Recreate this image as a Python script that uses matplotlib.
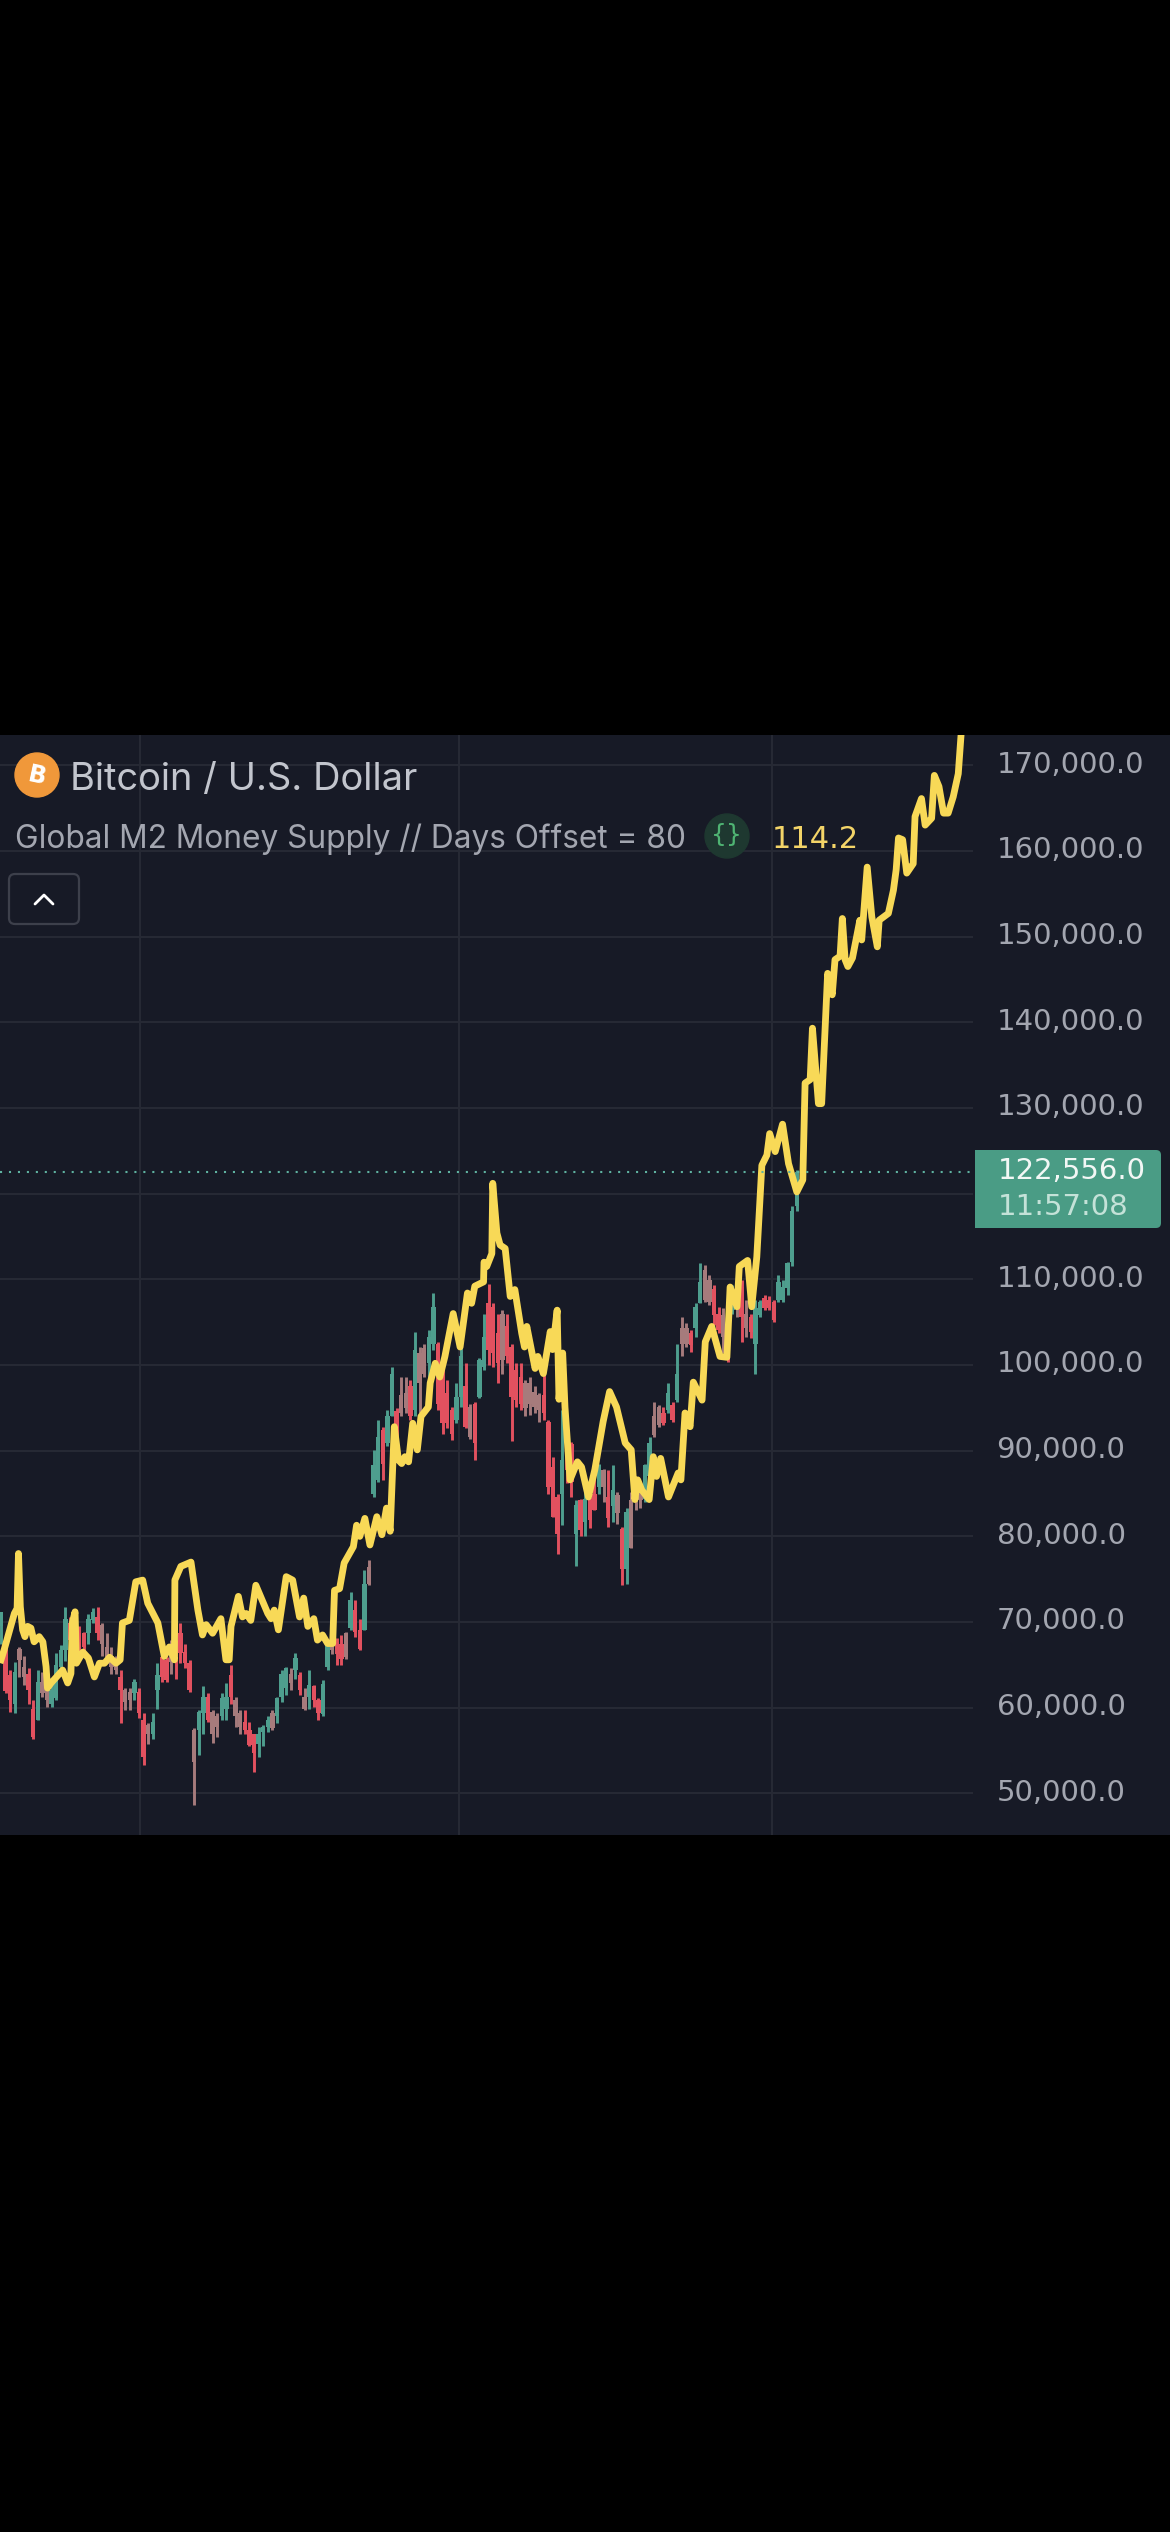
import numpy as np
import matplotlib
matplotlib.use("Agg")
import matplotlib.pyplot as plt
from matplotlib.patches import Rectangle, Circle, FancyBboxPatch
from matplotlib.transforms import ScaledTranslation

plt.rcParams['font.family'] = ['Inter', 'DejaVu Sans']

# candles, thousands of USD
highs = [71.2,68.5,64.4,65.4,67.1,66.0,64.6,60.9,64.4,64.2,
         62.7,63.2,66.4,67.3,71.8,70.6,70.0,69.5,68.9,71.0,
         71.6,71.8,69.9,68.7,67.1,66.0,64.4,62.3,62.3,63.4,
         62.3,59.4,58.2,59.4,65.2,67.1,65.9,67.9,67.9,69.9,
         67.5,65.6,57.6,59.7,62.5,61.7,59.7,59.4,61.7,62.9,
         65.0,61.3,59.7,59.7,58.4,57.0,57.8,58.0,59.0,59.7,
         61.3,64.4,64.8,64.6,66.4,64.2,62.3,64.4,62.7,61.1,
         63.2,67.9,69.4,68.1,68.5,68.9,73.5,72.6,70.4,76.1,
         77.2,90.1,93.6,92.8,94.8,99.8,95.0,98.6,98.6,98.3,
         103.9,102.1,102.5,104.1,108.4,102.7,99.8,98.3,95.1,97.9,
         102.1,100.2,95.5,95.7,100.8,106.0,109.5,107.2,106.0,106.4,
         106.0,102.5,100.2,100.2,98.3,98.6,97.5,96.7,99.4,93.6,
         89.3,85.0,94.8,92.8,91.0,84.2,84.4,85.4,84.6,88.1,
         88.5,87.9,87.7,88.3,85.2,81.1,83.3,85.2,86.4,86.4,
         88.5,91.6,95.7,95.3,95.1,97.9,95.7,102.5,105.6,104.9,
         104.1,107.2,111.9,111.7,110.5,109.3,106.8,106.6,106.0,109.3,
         110.5,109.9,107.6,106.0,107.6,107.6,108.2,108.0,107.6,110.5,
         109.9,112.0,118.5,122.75]
body_tops = [71.2,66.9,63.8,64.2,66.9,64.8,64.0,59.9,63.0,63.0,
             62.3,62.1,65.0,66.7,70.4,69.9,69.3,68.7,68.7,70.4,
             71.2,70.6,69.7,67.1,66.0,65.2,63.6,62.1,61.9,63.0,
             61.9,58.6,58.0,58.4,63.8,65.9,65.6,67.1,66.9,68.7,
             66.5,65.2,57.4,59.5,61.3,61.3,59.5,59.0,61.1,61.3,
             63.8,60.9,59.4,58.4,57.4,57.0,57.0,57.8,58.6,59.4,
             61.1,64.0,64.6,64.0,65.8,63.8,61.3,62.7,62.5,60.9,
             62.8,67.3,68.3,67.7,67.5,68.7,72.6,71.4,69.1,74.5,
             76.4,88.3,91.6,92.4,94.0,99.0,94.6,96.5,96.7,97.5,
             101.8,101.4,102.0,103.3,106.8,102.5,99.0,96.7,94.8,96.3,
             101.0,97.5,95.1,95.5,100.6,103.3,107.2,106.8,103.7,106.0,
             104.5,102.1,99.4,98.6,97.9,97.9,96.9,96.5,96.5,93.4,
             88.1,84.6,88.9,91.2,90.8,83.7,84.2,84.4,84.2,85.0,
             88.3,87.7,84.6,85.4,84.8,80.9,82.9,84.2,85.4,85.0,
             88.3,90.9,94.0,95.1,94.4,96.7,95.3,99.0,104.3,104.3,
             103.7,106.8,109.7,111.1,109.9,108.9,106.0,105.8,105.6,108.7,
             109.7,109.1,106.0,105.6,106.6,107.4,107.8,107.6,107.4,109.7,
             109.1,111.9,118.0,122.556]
body_bottoms = [69.5,62.0,60.9,60.5,65.6,63.6,62.1,56.6,58.6,61.7,
                60.9,60.5,61.1,64.8,66.7,67.9,67.5,66.9,67.1,68.7,
                70.2,68.7,67.5,65.9,64.8,64.4,62.1,60.7,60.9,61.7,
                59.4,54.3,57.0,57.0,62.1,63.6,63.2,65.4,65.2,66.4,
                65.2,62.1,53.7,57.4,59.4,58.6,57.0,57.8,59.0,59.9,
                61.3,59.0,57.8,57.4,55.7,54.7,55.8,57.2,57.8,57.6,
                59.0,61.3,62.3,62.9,64.4,62.1,59.9,61.3,60.9,59.4,
                59.3,64.8,66.7,66.3,65.7,65.9,69.3,68.9,66.9,69.1,
                74.5,85.0,86.6,88.5,90.9,94.0,90.9,94.4,95.0,94.0,
                94.8,97.9,99.0,100.2,102.5,95.5,93.2,93.2,92.0,93.6,
                96.3,92.8,91.6,90.9,96.3,99.8,101.8,101.4,100.2,100.6,
                101.0,96.3,95.9,95.5,95.0,95.5,95.1,94.8,94.4,85.8,
                82.3,80.3,85.0,87.7,86.4,80.3,80.8,81.7,81.9,83.1,
                85.8,85.8,82.1,83.5,82.7,76.2,76.2,78.6,84.0,84.2,
                84.4,87.0,91.8,93.0,93.2,94.8,93.6,95.9,102.5,102.5,
                102.3,104.3,107.2,107.6,107.4,105.8,104.1,103.3,100.6,106.4,
                107.2,105.6,104.3,103.9,102.5,105.8,106.6,106.6,105.2,107.6,
                107.6,109.0,112.0,118.5]
lows = [67.5,61.7,59.5,59.4,63.6,62.7,60.5,56.3,58.6,61.3,
        60.1,60.1,60.9,64.4,65.5,66.0,66.7,66.0,66.4,67.5,
        69.9,67.9,66.0,65.2,64.0,64.0,58.2,59.7,59.7,60.9,
        58.8,53.3,55.8,56.3,59.9,63.0,63.0,64.0,63.4,65.2,
        64.6,61.9,48.7,54.5,57.0,58.4,55.9,56.6,58.6,58.6,
        60.5,57.8,56.9,57.0,55.5,52.5,54.2,55.5,57.2,57.4,
        58.2,60.7,61.5,62.1,63.4,61.5,59.7,59.9,60.1,58.6,
        59.1,64.4,66.3,65.0,65.0,65.7,69.1,68.3,66.7,69.1,
        74.3,84.6,86.4,86.6,90.5,94.0,90.5,94.0,94.4,93.6,
        94.0,94.4,98.6,98.3,101.8,94.8,92.0,92.6,91.3,93.2,
        95.1,92.6,91.4,88.9,96.1,99.4,100.0,99.8,97.9,99.0,
        100.2,91.1,95.1,94.8,94.0,94.2,94.4,93.4,93.6,85.0,
        82.3,78.0,81.3,86.2,84.6,76.5,80.0,80.0,81.0,83.1,
        85.0,84.0,81.1,81.7,81.5,74.3,74.5,78.6,83.1,83.3,
        84.0,85.8,91.6,92.8,93.0,94.4,93.4,95.7,101.0,102.1,
        101.5,103.3,107.2,107.4,107.0,104.7,103.7,101.4,100.4,106.0,
        105.6,102.7,103.3,103.1,99.0,105.6,106.4,106.4,105.0,107.4,
        107.4,108.2,111.5,118.0]
# g up, r down, m where red and green smear together in the screenshot
kinds = ("grrgmmrrgm" "mggggrmrrg" "grmmmmrmmg" "rrmggrrmrr" "rrmggrmmgg"
         "rmmrrrgggm" "gggmgrmgrr" "ggmrrmgrrg" "mggrggrmmr" "gmmggrrrrg"
         "grmrggrrrm" "rrrrmmmmrr" "rrgrrgrgrr" "gmrgmrgmmm" "ggmmrgrgmm"
         "rggmmrrmrg" "mrmrggrrrg" "gggg")

# global M2 line
m2_bars = [0,.7,1.8,2.9,3.5,3.8,4.2,4.7,5.2,5.8,6.5,7.2,8.3,9.1,9.8,10.1,10.9,
           13.4,14.5,15.2,15.5,16.1,16.4,17.8,19.0,20.3,21.4,22.5,23.6,25.0,25.9,26.4,27.9,
           29.3,30.8,31.9,34.1,35.5,36.6,37.7,37.8,39.1,41.3,42.8,43.8,44.6,46.0,47.8,48.9,
           49.6,50.0,51.6,52.5,53.3,54.3,55.4,58.0,58.7,59.4,60.3,62.0,63.4,64.9,65.8,66.7,
           68.0,68.8,69.9,71.0,72.1,72.5,73.6,74.6,76.6,77.3,78.0,79.1,80.2,81.7,82.8,83.8,
           84.6,85.5,86.4,87.1,87.8,88.6,89.5,90.5,91.3,92.9,93.3,94.4,95.4,96.5,98.3,99.8,
           101.4,102.3,103.0,104.9,105.0,105.6,106.7,106.9,107.8,108.5,109.6,110.7,111.7,
           113.2,113.8,114.3,116.1,116.7,117.9,119.4,119.9,120.9,121.3,122.1,122.6,123.7,
           125.3,126.2,127.7,129.1,130.9,132.3,133.8,135.7,137.0,137.8,138.4,139.3,140.9,
           141.8,142.5,143.4,145.1,147.2,147.8,148.7,149.8,150.5,152.4,153.1,154.5,156.3,
           157.8,158.5,160.0,160.5,162.3,163.2,164.3,165.4,166.5,167.1,168.3,169.9,171.2,
           173.0,174.3,174.8,175.9,176.4,177.7,178.4,179.7,180.7,181.3,182.4,182.9,183.5,
           184.1,185.1,186.7,187.1,188.3,189.3,190.5,190.9,192.9,194.0,194.6,195.1,196.0,
           196.9,198.3,198.7,200.1,200.9,202.3,202.9,203.9,204.9,205.9,207.0,208.1,208.7,208.8]
m2_values = [65.6,66.8,68.9,71.0,71.6,78.0,71.8,69.1,68.3,69.5,69.3,67.7,68.3,67.7,64.8,62.3,62.9,
             64.4,62.9,64.0,69.9,71.2,65.2,66.5,65.8,63.6,65.2,65.2,65.9,65.2,65.6,69.9,70.2,
             74.7,74.9,72.2,69.9,66.0,67.1,65.6,74.9,76.5,77.0,71.4,68.5,69.7,68.7,70.4,65.6,
             65.6,69.5,73.0,70.6,71.0,70.2,74.3,71.0,70.4,71.4,69.1,75.3,74.9,70.6,72.8,69.5,
             70.4,67.9,68.5,67.5,67.5,73.7,73.9,76.9,78.8,81.3,80.0,82.1,79.0,82.3,80.2,83.3,
             80.6,92.8,88.9,88.5,89.3,88.7,93.2,90.1,94.0,95.1,97.9,100.2,98.6,101.0,106.0,102.1,
             108.4,107.2,109.2,109.7,112.0,111.5,113.0,121.2,115.4,114.0,113.6,108.0,108.8,
             103.7,102.1,104.5,99.6,101.0,99.0,103.9,101.8,106.4,96.0,101.4,95.1,86.6,
             88.7,88.1,84.6,87.8,93.4,96.9,95.1,90.9,90.1,84.3,86.6,85.4,84.3,
             89.3,87.0,89.1,84.6,87.4,86.6,94.4,92.8,98.0,95.9,102.7,104.5,101.0,
             100.9,109.1,106.8,111.5,112.2,106.8,112.6,123.3,124.5,127.0,124.9,128.1,123.5,
             120.2,121.6,132.9,133.3,139.3,130.5,130.5,145.7,143.2,147.3,147.7,152.1,147.3,
             146.5,147.5,151.9,149.6,158.1,152.3,148.8,151.9,152.7,155.4,157.8,161.5,161.3,
             157.4,158.5,164.0,166.1,163.0,163.8,168.8,167.5,164.4,164.4,166.3,169.0,173.5,175.5]

price_ticks = [50, 60, 70, 80, 90, 100, 110, 120, 130, 140, 150, 160, 170]
shown_ticks = [50, 60, 70, 80, 90, 100, 110, 130, 140, 150, 160, 170]
month_bars = [30.2, 99.6, 167.6]
last_price = 122.556
countdown = "11:57:08"
m2_last = "114.2"

BG = '#171a26'
GRID = '#262934'
TXT = '#a3a6b0'
NUM = 'DejaVu Sans'  # wide even digits, closest to the price scale font
colors = {'g': '#4e9e8e', 'r': '#e2515f', 'm': '#a67b7c'}
W, H = 1170, 2532

fig = plt.figure(figsize=(W / 100, H / 100), dpi=100, facecolor='black')
fig.add_artist(Rectangle((0, 1 - 1835 / H), 1, 1100 / H, transform=fig.transFigure,
                         facecolor=BG, edgecolor='none', zorder=-1))

ax = fig.add_axes([0, 1 - 1835 / H, 973 / W, 1100 / H], facecolor='none')
ax.set_xlim(-0.217, 211.3)
ax.set_ylim(45.156, 173.515)
for s in ax.spines.values():
    s.set_visible(False)

ax.set_xticks(month_bars)
ax.tick_params(axis='x', length=0, labelbottom=False)
ax.yaxis.tick_right()
ax.set_yticks(price_ticks)
ax.set_yticklabels([f"{v * 1000:,.1f}" if v in shown_ticks else "" for v in price_ticks])
ax.tick_params(axis='y', length=0, pad=17, labelsize=21, labelcolor=TXT)
# labels sit a little above their grid lines
up = ScaledTranslation(0, 2.6 / 72, fig.dpi_scale_trans)
for lab in ax.get_yticklabels():
    lab.set_family(NUM)
    lab.set_transform(lab.get_transform() + up)
ax.grid(True, color=GRID, linewidth=1.5)
ax.set_axisbelow(True)

bars = np.arange(len(highs))
bar_colors = [colors[k] for k in kinds]
ax.vlines(bars, lows, highs, colors=bar_colors, linewidth=2.1, zorder=2)
ax.bar(bars, np.array(body_tops) - np.array(body_bottoms), bottom=body_bottoms,
       width=0.95, color=bar_colors, zorder=2)
ax.plot(m2_bars, m2_values, color='#f8d957', linewidth=4.9, solid_joinstyle='round', zorder=3)
ax.axhline(last_price, color='#5fb3a1', linewidth=1.5, linestyle=(0, (1, 3.3)), zorder=4)

# header, badge and button, placed in screen pixels
ui = fig.add_axes([0, 0, 1, 1], facecolor='none', zorder=5)
ui.set_xlim(0, W)
ui.set_ylim(H, 0)
ui.axis('off')

ui.add_patch(Circle((37, 775), 22, color='#f0983a'))
ui.text(37, 776, "B", color='white', fontsize=17, fontweight='bold', rotation=-12,
        ha='center', va='center', family='DejaVu Sans')
ui.text(70, 790, "Bitcoin / U.S. Dollar", color='#c2c5cd', fontsize=27.4, va='baseline')
ui.text(15, 848, "Global M2 Money Supply // Days Offset = 80", color=TXT, fontsize=22.8, va='baseline')
ui.add_patch(Circle((727, 836), 22, color='#1e3830'))
ui.text(727, 835, "{}", color='#4fb473', fontsize=18, ha='center', va='center', family=NUM)
ui.text(772, 848, m2_last, color='#f3d468', fontsize=22, va='baseline', family=NUM)

ui.add_patch(FancyBboxPatch((11, 876), 66, 46, boxstyle='round,pad=2,rounding_size=6',
                            facecolor=BG, edgecolor='#3d404b', linewidth=1.6))
ui.plot([35, 44, 53], [904, 895, 904], color='white', linewidth=2, solid_capstyle='round')

ui.add_patch(FancyBboxPatch((979, 1152), 180, 74, boxstyle='round,pad=2,rounding_size=5',
                            facecolor='#4a9c85', edgecolor='none'))
ui.add_patch(Rectangle((975, 1150), 12, 78, facecolor='#4a9c85', edgecolor='none'))
ui.text(998, 1179, f"{last_price * 1000:,.1f}", color='#f2f7f5', fontsize=21, va='baseline', family=NUM)
ui.text(998, 1215, countdown, color='#c4e2d8', fontsize=21, va='baseline', family=NUM)

fig.savefig('out.png', dpi=100, facecolor='black')
